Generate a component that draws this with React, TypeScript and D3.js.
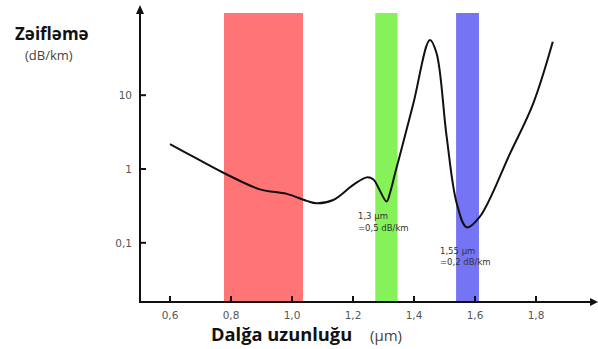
import React from "react";
import * as d3 from "d3";

const wavelengths = [0.6, 0.676, 0.775, 0.895, 0.983, 1.048, 1.081, 1.135, 1.201, 1.245, 1.267, 1.285, 1.31, 1.321, 1.338, 1.354, 1.398, 1.452, 1.474, 1.507, 1.54, 1.573, 1.616, 1.715, 1.791, 1.855];
const attenuation = [2.18, 1.47, 0.89, 0.53, 0.46, 0.37, 0.343, 0.38, 0.61, 0.77, 0.72, 0.54, 0.363, 0.47, 0.875, 1.55, 7.77, 56, 37, 2.74, 0.343, 0.162, 0.226, 1.63, 7.77, 53];

const bandStart = [0.777, 1.273, 1.538];
const bandEnd = [1.036, 1.346, 1.613];
const bandColors = ["#ff7474", "#86f25a", "#7474f4"];

const xTicks = [0.6, 0.8, 1.0, 1.2, 1.4, 1.6, 1.8];
const xTickLabels = ["0,6", "0,8", "1,0", "1,2", "1,4", "1,6", "1,8"];
const yTicks = [0.1, 1, 10];
const yTickLabels = ["0,1", "1", "10"];

const yTitle = "Zəifləmə";
const yUnit = "(dB/km)";
const xTitle = "Dalğa uzunluğu";
const xUnit = "(μm)";
const note1 = ["1,3 μm", "=0,5 dB/km"];
const note2 = ["1,55 μm", "=0,2 dB/km"];

export default function App() {
  const x = d3.scaleLinear().domain([0.6, 1.8]).range([170, 536]);
  const y = d3.scaleLog().domain([0.1, 10]).range([242.8, 95.2]);
  const axisX0 = 140;
  const axisY0 = 302;
  const bandTop = 13;

  const line = d3
    .line<number>()
    .x((_, i) => x(wavelengths[i]))
    .y((d) => y(d))
    .curve(d3.curveCatmullRom.alpha(0.5));

  const tickFont = "'DejaVu Sans', sans-serif";
  return (
    <svg width={598} height={349} style={{ position: "absolute", left: 0, top: 0, background: "#fff" }}>
      {bandStart.map((s, i) => (
        <rect key={i} x={x(s)} y={bandTop} width={x(bandEnd[i]) - x(s)} height={axisY0 - bandTop} fill={bandColors[i]} />
      ))}
      <path d={line(attenuation) || ""} fill="none" stroke="#111" strokeWidth={2} />
      {/* axes */}
      <line x1={axisX0} y1={axisY0} x2={axisX0} y2={12} stroke="#111" strokeWidth={2} />
      <path d={`M${axisX0 - 4},${14} L${axisX0},${5} L${axisX0 + 4},${14} Z`} fill="#111" />
      <line x1={axisX0 - 1} y1={axisY0} x2={592} y2={axisY0} stroke="#111" strokeWidth={2} />
      <path d={`M${590},${axisY0 - 4} L${598},${axisY0} L${590},${axisY0 + 4} Z`} fill="#111" />
      {xTicks.map((t, i) => (
        <g key={i}>
          <line x1={x(t)} x2={x(t)} y1={axisY0} y2={axisY0 - 6} stroke="#111" strokeWidth={2} />
          <text x={x(t)} y={319} textAnchor="middle" fontSize={10.5} fill="#555" fontFamily={tickFont}>
            {xTickLabels[i]}
          </text>
        </g>
      ))}
      {yTicks.map((t, i) => (
        <g key={i}>
          <line x1={axisX0} x2={axisX0 + 6} y1={y(t)} y2={y(t)} stroke="#111" strokeWidth={2} />
          <text x={132} y={y(t) + 4} textAnchor="end" fontSize={10.5} fill="#555" fontFamily={tickFont}>
            {yTickLabels[i]}
          </text>
        </g>
      ))}
      <text x={15} y={40} fontSize={17} fontWeight="bold" fill="#111" fontFamily="'Open Sans', sans-serif">
        {yTitle}
      </text>
      <text x={25} y={60} fontSize={13} fill="#444" fontFamily="'Open Sans', sans-serif">
        {yUnit}
      </text>
      <text x={211} y={341} fontSize={18.3} fontWeight="bold" fill="#111" fontFamily="'Open Sans', sans-serif">
        {xTitle}
      </text>
      <text x={370} y={341} fontSize={15} fill="#444" fontFamily="'Open Sans', sans-serif">
        {xUnit}
      </text>
      <text fontSize={8.5} fill="#333" fontFamily={tickFont}>
        <tspan x={358} y={219}>{note1[0]}</tspan>
        <tspan x={358} y={231}>{note1[1]}</tspan>
      </text>
      <text fontSize={8.5} fill="#333" fontFamily={tickFont}>
        <tspan x={440} y={254}>{note2[0]}</tspan>
        <tspan x={440} y={265}>{note2[1]}</tspan>
      </text>
    </svg>
  );
}
